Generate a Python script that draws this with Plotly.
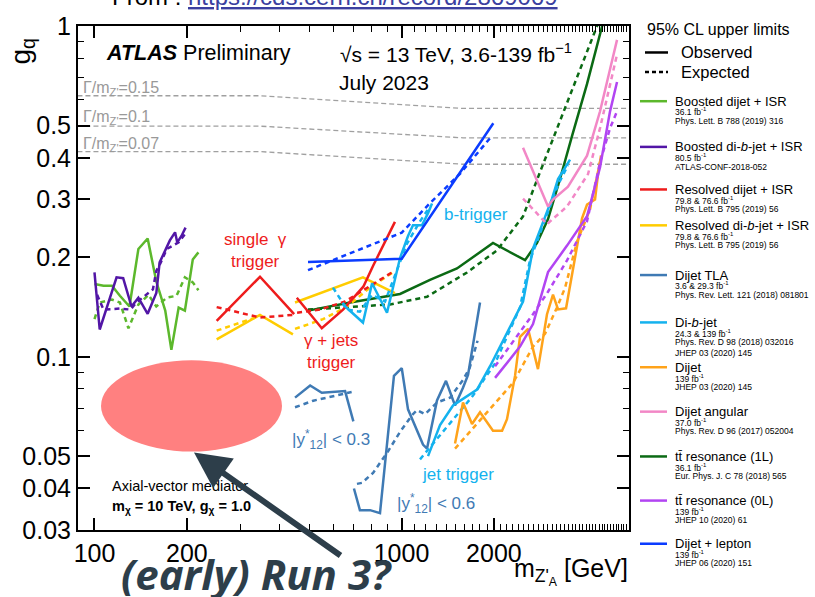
import plotly.graph_objects as go

# ================= DATA (mass in GeV, g_q upper limit) =================
# Boosted dijet + ISR
bdj_obs_m = [100, 107, 114, 121, 130, 139, 149, 159, 170, 178, 188, 197, 209, 218]
bdj_obs_g = [0.166, 0.164, 0.164, 0.153, 0.142, 0.212, 0.228, 0.169, 0.138, 0.105, 0.141, 0.138, 0.197, 0.207]
bdj_exp_m = [100, 104, 114, 121, 129, 139, 150, 159, 172, 185, 197, 209, 218]
bdj_exp_g = [0.130, 0.146, 0.149, 0.146, 0.122, 0.144, 0.154, 0.142, 0.151, 0.153, 0.174, 0.168, 0.159]

# Boosted di-b-jet + ISR
bbb_obs_m = [100, 104, 118, 124, 132, 139, 149, 159, 163, 172, 176, 183, 186, 192, 198]
bbb_obs_g = [0.180, 0.121, 0.174, 0.173, 0.142, 0.151, 0.135, 0.156, 0.193, 0.214, 0.225, 0.238, 0.222, 0.232, 0.246]
bbb_exp_m = [102, 107, 121, 131, 137, 148, 155, 159, 164, 172, 181, 188, 197]
bbb_exp_g = [0.154, 0.139, 0.140, 0.139, 0.146, 0.154, 0.160, 0.182, 0.192, 0.212, 0.217, 0.222, 0.235]

# Resolved dijet + ISR (single-photon trigger / photon+jets trigger)
rdj1_obs_m = [250, 346, 447]
rdj1_obs_g = [0.1285, 0.1747, 0.1346]
rdj1_exp_m = [250, 346, 442]
rdj1_exp_g = [0.1414, 0.1315, 0.1339]
rdj2_obs_m = [456, 550, 645, 751, 809, 952]
rdj2_obs_g = [0.151, 0.122, 0.139, 0.163, 0.189, 0.256]
rdj2_exp_m = [457, 543, 655, 761, 931]
rdj2_exp_g = [0.136, 0.139, 0.147, 0.160, 0.180]

# Resolved di-b-jet + ISR
rbb1_obs_m = [250, 346, 443]
rbb1_obs_g = [0.113, 0.134, 0.117]
rbb1_exp_m = [250, 298, 346]
rbb1_exp_g = [0.120, 0.127, 0.133]
rbb2_obs_m = [450, 543, 749, 952]
rbb2_obs_g = [0.146, 0.156, 0.174, 0.156]
rbb2_exp_m = [450, 555, 665, 790, 952]
rbb2_exp_g = [0.1215, 0.130, 0.142, 0.162, 0.182]

# Dijet TLA (|y*|<0.3 and |y*|<0.6)
tla3_obs_m = [450, 504, 550, 655, 697]
tla3_obs_g = [0.0753, 0.0819, 0.0779, 0.0788, 0.0638]
tla3_exp_m = [450, 516, 688]
tla3_exp_g = [0.0704, 0.0737, 0.0783]
tla6_obs_m = [700, 732, 790, 851, 945, 1002, 1050, 1175, 1211, 1305, 1396, 1494, 1586, 1647, 1802]
tla6_obs_g = [0.0400, 0.0344, 0.0344, 0.0337, 0.0876, 0.0924, 0.0694, 0.0543, 0.0528, 0.0738, 0.0846, 0.0713, 0.0807, 0.0882, 0.146]
tla6_exp_m = [716, 744, 808, 904, 989, 1082, 1123, 1193, 1305, 1439, 1586, 1666, 1769]
tla6_exp_g = [0.0413, 0.0416, 0.0446, 0.0518, 0.0593, 0.0666, 0.0690, 0.0671, 0.0728, 0.0753, 0.0852, 0.0924, 0.1119]

# Di-b-jet (b-trigger / jet trigger)
dbb1_obs_m = [645, 749, 802, 897, 989, 1050, 1090, 1166, 1220, 1257]
dbb1_obs_g = [0.144, 0.127, 0.167, 0.136, 0.199, 0.232, 0.250, 0.250, 0.272, 0.291]
dbb1_exp_m = [598, 665, 732, 802, 884, 989, 1042, 1149, 1238]
dbb1_exp_g = [0.162, 0.139, 0.137, 0.154, 0.147, 0.192, 0.220, 0.257, 0.285]
dbb2_obs_m = [1220, 1335, 1472, 1762, 1943, 2094, 2488, 2681, 2890, 3092, 3235, 3540]
dbb2_obs_g = [0.0501, 0.0622, 0.0713, 0.0796, 0.0937, 0.1074, 0.147, 0.2126, 0.2573, 0.301, 0.345, 0.395]
dbb2_exp_m = [1149, 1335, 1710, 2017, 2432, 2621, 2934, 3235, 3486]
dbb2_exp_g = [0.049, 0.0581, 0.0764, 0.0956, 0.1411, 0.1958, 0.2608, 0.3311, 0.3797]

# Dijet
dj_obs_m = [1494, 1586, 1697, 1802, 1986, 2126, 2206, 2343, 2432, 2583, 2783, 2978, 3115, 3235, 3435, 3675, 3873, 4021, 4269, 4366, 4466]
dj_obs_g = [0.0547, 0.0728, 0.0627, 0.0680, 0.0598, 0.0598, 0.0648, 0.0876, 0.115, 0.1215, 0.0918, 0.1346, 0.1542, 0.1392, 0.1402, 0.2026, 0.2626, 0.2888, 0.2989, 0.3569, 0.4064]
dj_exp_m = [1494, 1802, 2308, 2681, 2934, 3210, 3410, 3730, 4111, 4466]
dj_exp_g = [0.0528, 0.0644, 0.0835, 0.1074, 0.1174, 0.1411, 0.1618, 0.223, 0.2792, 0.4009]

# Dijet angular
ang_obs_m = [2488, 3001, 3115, 3486, 4021, 4433, 4778, 5035]
ang_obs_g = [0.429, 0.285, 0.299, 0.327, 0.406, 0.553, 0.741, 0.909]
ang_exp_m = [2488, 2978, 3461, 4051, 4433, 4778, 5035]
ang_exp_g = [0.301, 0.252, 0.285, 0.357, 0.492, 0.660, 0.821]

# ttbar resonance (1L)
tt1_obs_m = [496, 680, 989, 1238, 1516, 1986, 2526, 2763, 3001, 3283, 3594, 4021, 4600]
tt1_obs_g = [0.138, 0.146, 0.155, 0.171, 0.185, 0.221, 0.196, 0.221, 0.261, 0.345, 0.466, 0.669, 1.08]
tt1_exp_m = [496, 917, 1211, 1635, 2047, 2488, 2826, 3461, 4334, 4433]
tt1_exp_g = [0.139, 0.144, 0.152, 0.180, 0.210, 0.266, 0.362, 0.584, 0.993, 1.056]

# ttbar resonance (0L)
tt0_obs_m = [2017, 2432, 2681, 3001, 3461, 4021, 4433, 4778, 5035]
tt0_obs_g = [0.0864, 0.1074, 0.1257, 0.1804, 0.217, 0.2662, 0.3745, 0.5525, 0.6778]
tt0_exp_m = [2017, 2681, 3001, 3461, 4021, 4433, 4778, 5035]
tt0_exp_g = [0.0937, 0.1346, 0.1574, 0.1958, 0.2573, 0.3874, 0.4918, 0.5525]

# Dijet + lepton
djl_obs_m = [496, 1002, 1991]
djl_obs_g = [0.1936, 0.1981, 0.5088]
djl_exp_m = [496, 1002, 1238, 1550, 1967]
djl_exp_g = [0.1829, 0.2375, 0.2915, 0.3577, 0.4648]

# Width reference lines
width_m = [88, 346, 1586, 5540]
width_015_g = [0.616, 0.616, 0.564, 0.564]
width_010_g = [0.4985, 0.4985, 0.4596, 0.4596]
width_007_g = [0.4176, 0.4176, 0.3823, 0.3823]
width_labels = ["0.15", "0.1", "0.07"]

# Axis ticks
x_major = [100, 200, 1000, 2000]
x_minor = [300, 400, 500, 600, 700, 800, 900] + [m for m in range(1100, 5600, 100) if m != 2000]
y_major = [0.03, 0.04, 0.05, 0.1, 0.2, 0.3, 0.4, 0.5, 1]
y_major_text = ["0.03", "0.04", "0.05", "0.1", "0.2", "0.3", "0.4", "0.5", "1"]
y_minor = [0.06, 0.07, 0.08, 0.09, 0.6, 0.7, 0.8, 0.9]

# Legend texts
legend_names = ["Boosted dijet + ISR", "Boosted di-<i>b</i>-jet + ISR", "Resolved dijet + ISR",
                "Resolved di-<i>b</i>-jet + ISR", "Dijet TLA", "Di-<i>b</i>-jet", "Dijet",
                "Dijet angular", "tt\u0304 resonance (1L)", "tt\u0304 resonance (0L)", "Dijet + lepton"]
legend_lumi = ["36.1 fb<sup>-1</sup>", "80.5 fb<sup>-1</sup>", "79.8 &amp; 76.6 fb<sup>-1</sup>",
               "79.8 &amp; 76.6 fb<sup>-1</sup>", "3.6 &amp; 29.3 fb<sup>-1</sup>",
               "24.3 &amp; 139 fb<sup>-1</sup>", "139 fb<sup>-1</sup>", "37.0 fb<sup>-1</sup>",
               "36.1 fb<sup>-1</sup>", "139 fb<sup>-1</sup>", "139 fb<sup>-1</sup>"]
legend_refs = [["Phys. Lett. B 788 (2019) 316"], ["ATLAS-CONF-2018-052"], ["Phys. Lett. B 795 (2019) 56"],
               ["Phys. Lett. B 795 (2019) 56"], ["Phys. Rev. Lett. 121 (2018) 081801"],
               ["Phys. Rev. D 98 (2018) 032016", "JHEP 03 (2020) 145"], ["JHEP 03 (2020) 145"],
               ["Phys. Rev. D 96 (2017) 052004"], ["Eur. Phys. J. C 78 (2018) 565"],
               ["JHEP 10 (2020) 61"], ["JHEP 06 (2020) 151"]]

# ================= STYLE =================
COL = {
    "bdj": "#5cb82c", "bbb": "#5216a6", "rdj": "#ee1c1c", "rbb": "#ffcc00", "tla": "#3f7ab4",
    "dbb": "#14b2ee", "dj": "#ffa31a", "ang": "#f287c6", "tt1": "#0b6a14", "tt0": "#b245f2",
    "djl": "#0b3cff",
}
legend_keys = ["bdj", "bbb", "rdj", "rbb", "tla", "dbb", "dj", "ang", "tt1", "tt0", "djl"]
DASH = "5px,4px"
FONT = "Liberation Sans, Arial, sans-serif"

W, H = 815, 597
L, R, T, B = 78, 629, 16, 530


def px(x):
    return (x - L) / (R - L)


def py(y):
    return (B - y) / (B - T)


fig = go.Figure()


def add(m, g, color, dashed, width=2.5):
    fig.add_trace(go.Scatter(x=m, y=g, mode="lines",
                             line=dict(color=color, width=width, dash=DASH if dashed else "solid"),
                             showlegend=False, hoverinfo="skip"))


# width lines
for wg in (width_015_g, width_010_g, width_007_g):
    fig.add_trace(go.Scatter(x=width_m, y=wg, mode="lines",
                             line=dict(color="#a0a0a0", width=1.3, dash="5px,3px"),
                             showlegend=False, hoverinfo="skip"))

series = [
    (tt1_obs_m, tt1_obs_g, "tt1", False), (tt1_exp_m, tt1_exp_g, "tt1", True),
    (bdj_obs_m, bdj_obs_g, "bdj", False), (bdj_exp_m, bdj_exp_g, "bdj", True),
    (bbb_obs_m, bbb_obs_g, "bbb", False), (bbb_exp_m, bbb_exp_g, "bbb", True),
    (rbb1_obs_m, rbb1_obs_g, "rbb", False), (rbb1_exp_m, rbb1_exp_g, "rbb", True),
    (rbb2_obs_m, rbb2_obs_g, "rbb", False), (rbb2_exp_m, rbb2_exp_g, "rbb", True),
    (rdj1_obs_m, rdj1_obs_g, "rdj", False), (rdj1_exp_m, rdj1_exp_g, "rdj", True),
    (rdj2_obs_m, rdj2_obs_g, "rdj", False), (rdj2_exp_m, rdj2_exp_g, "rdj", True),
    (tla3_obs_m, tla3_obs_g, "tla", False), (tla3_exp_m, tla3_exp_g, "tla", True),
    (tla6_obs_m, tla6_obs_g, "tla", False), (tla6_exp_m, tla6_exp_g, "tla", True),
    (dbb1_obs_m, dbb1_obs_g, "dbb", False), (dbb1_exp_m, dbb1_exp_g, "dbb", True),
    (dbb2_obs_m, dbb2_obs_g, "dbb", False), (dbb2_exp_m, dbb2_exp_g, "dbb", True),
    (dj_obs_m, dj_obs_g, "dj", False), (dj_exp_m, dj_exp_g, "dj", True),
    (ang_obs_m, ang_obs_g, "ang", False), (ang_exp_m, ang_exp_g, "ang", True),
    (tt0_obs_m, tt0_obs_g, "tt0", False), (tt0_exp_m, tt0_exp_g, "tt0", True),
    (djl_obs_m, djl_obs_g, "djl", False), (djl_exp_m, djl_exp_g, "djl", True),
]
for m, g, k, d in series:
    add(m, g, COL[k], d)

ann = []


def text(x, y, s, size, color="black", xanchor="left", yanchor="middle", family=FONT, angle=0):
    ann.append(dict(x=px(x), y=py(y), xref="paper", yref="paper", text=s, showarrow=False,
                    xanchor=xanchor, yanchor=yanchor, textangle=angle,
                    font=dict(size=size, color=color, family=family)))


# header texts
text(104, 44, "<b><i>ATLAS</i></b> Preliminary", 21.5)
text(338, 44, "\u221as = 13 TeV, 3.6-139 fb<sup>\u22121</sup>", 21)
text(337, 74, "July 2023", 21)
for lbl, yy in zip(width_labels, (80, 109, 137)):
    text(81, yy, "\u0393/m<sub>Z'</sub>=" + lbl, 16, color="#999999")

# in-plot labels
text(222, 245, "single  \u03b3<br>trigger", 17, color="#ee1c1c")
text(331, 348, "\u03b3 + jets<br>trigger", 17, color="#ee1c1c", xanchor="center")
text(442, 208, "b-trigger", 17, color="#14b2ee")
text(420, 473, "jet trigger", 17, color="#14b2ee")
text(290, 438, "|y<sup>*</sup><sub>12</sub>| &lt; 0.3", 17, color="#3f7ab4")
text(395, 503, "|y<sup>*</sup><sub>12</sub>| &lt; 0.6", 17, color="#3f7ab4")
text(110, 485, "Axial-vector mediator", 14.5)
text(110, 507, "<b>m<sub>\u03c7</sub> = 10 TeV, g<sub>\u03c7</sub> = 1.0</b>", 14.5)

# axis titles
text(22, 42, "g<sub>q</sub>", 28, xanchor="center", angle=-90)
text(630, 572, "m<sub>Z'<sub>A</sub></sub> [GeV]", 25, xanchor="right")

# top source line (mostly cut off at the page edge)
text(110, 2, "From : <span style='fill:#3b3fa0;text-decoration:underline'>https://cds.cern.ch/record/2869069</span>",
     24, yanchor="bottom")

# Run 3 text and arrow
text(256, 574, "<b><i>(early) Run 3?</i></b>", 42, color="#2d3e4a", xanchor="center",
     family="Open Sans, sans-serif")
ann.append(dict(x=px(194), y=py(451), xref="paper", yref="paper", text="", showarrow=True,
                ax=148, ay=104, arrowhead=2, arrowsize=1.2, arrowwidth=6, arrowcolor="#2d3e4a"))

# legend
shapes = []
text(645, 20, "95% CL upper limits", 16)
shapes.append(dict(type="line", xref="paper", yref="paper", x0=px(645), x1=px(668), y0=py(43), y1=py(43),
                   line=dict(color="black", width=2.5)))
shapes.append(dict(type="line", xref="paper", yref="paper", x0=px(645), x1=px(668), y0=py(63), y1=py(63),
                   line=dict(color="black", width=2.5, dash="4px,3px")))
text(679, 43, "Observed", 16.5)
text(679, 63, "Expected", 16.5)

entry_y = [92.7, 139.3, 182.7, 219.3, 270, 318.3, 364, 409.3, 455, 500, 544]
for name, lumi, refs, k, ey in zip(legend_names, legend_lumi, legend_refs, legend_keys, entry_y):
    shapes.append(dict(type="line", xref="paper", yref="paper", x0=px(640), x1=px(667), y0=py(ey), y1=py(ey),
                       line=dict(color=COL[k], width=2.5)))
    text(673, ey, name, 13)
    text(673, ey + 11, lumi, 8.5)
    for i, r in enumerate(refs):
        text(673, ey + 20 + 11 * i, r, 8.5)

# red ellipse
shapes.append(dict(type="circle", xref="paper", yref="paper", x0=px(101), x1=px(282), y0=py(450), y1=py(357),
                   fillcolor="#ff8080", line=dict(width=0), layer="above"))

axis_common = dict(type="log", showgrid=False, zeroline=False, showline=True, linecolor="black", linewidth=2,
                   mirror="allticks", ticks="inside", ticklen=12, tickwidth=1.5, tickcolor="black",
                   tickfont=dict(size=25, family=FONT, color="black"))

fig.update_layout(
    width=W, height=H,
    margin=dict(l=L, r=W - R, t=T, b=H - B),
    paper_bgcolor="white", plot_bgcolor="white",
    xaxis=dict(range=[1.9463, 3.741], tickmode="array", tickvals=x_major, ticktext=[str(v) for v in x_major],
               minor=dict(tickmode="array", tickvals=x_minor, ticks="inside", ticklen=6, tickwidth=1,
                          tickcolor="black"),
               **axis_common),
    yaxis=dict(range=[-1.5235, 0.0005], tickmode="array", tickvals=y_major, ticktext=y_major_text,
               minor=dict(tickmode="array", tickvals=y_minor, ticks="inside", ticklen=6, tickwidth=1,
                          tickcolor="black"),
               **axis_common),
    annotations=ann,
    shapes=shapes,
    showlegend=False,
)

fig.write_html("out.html")
